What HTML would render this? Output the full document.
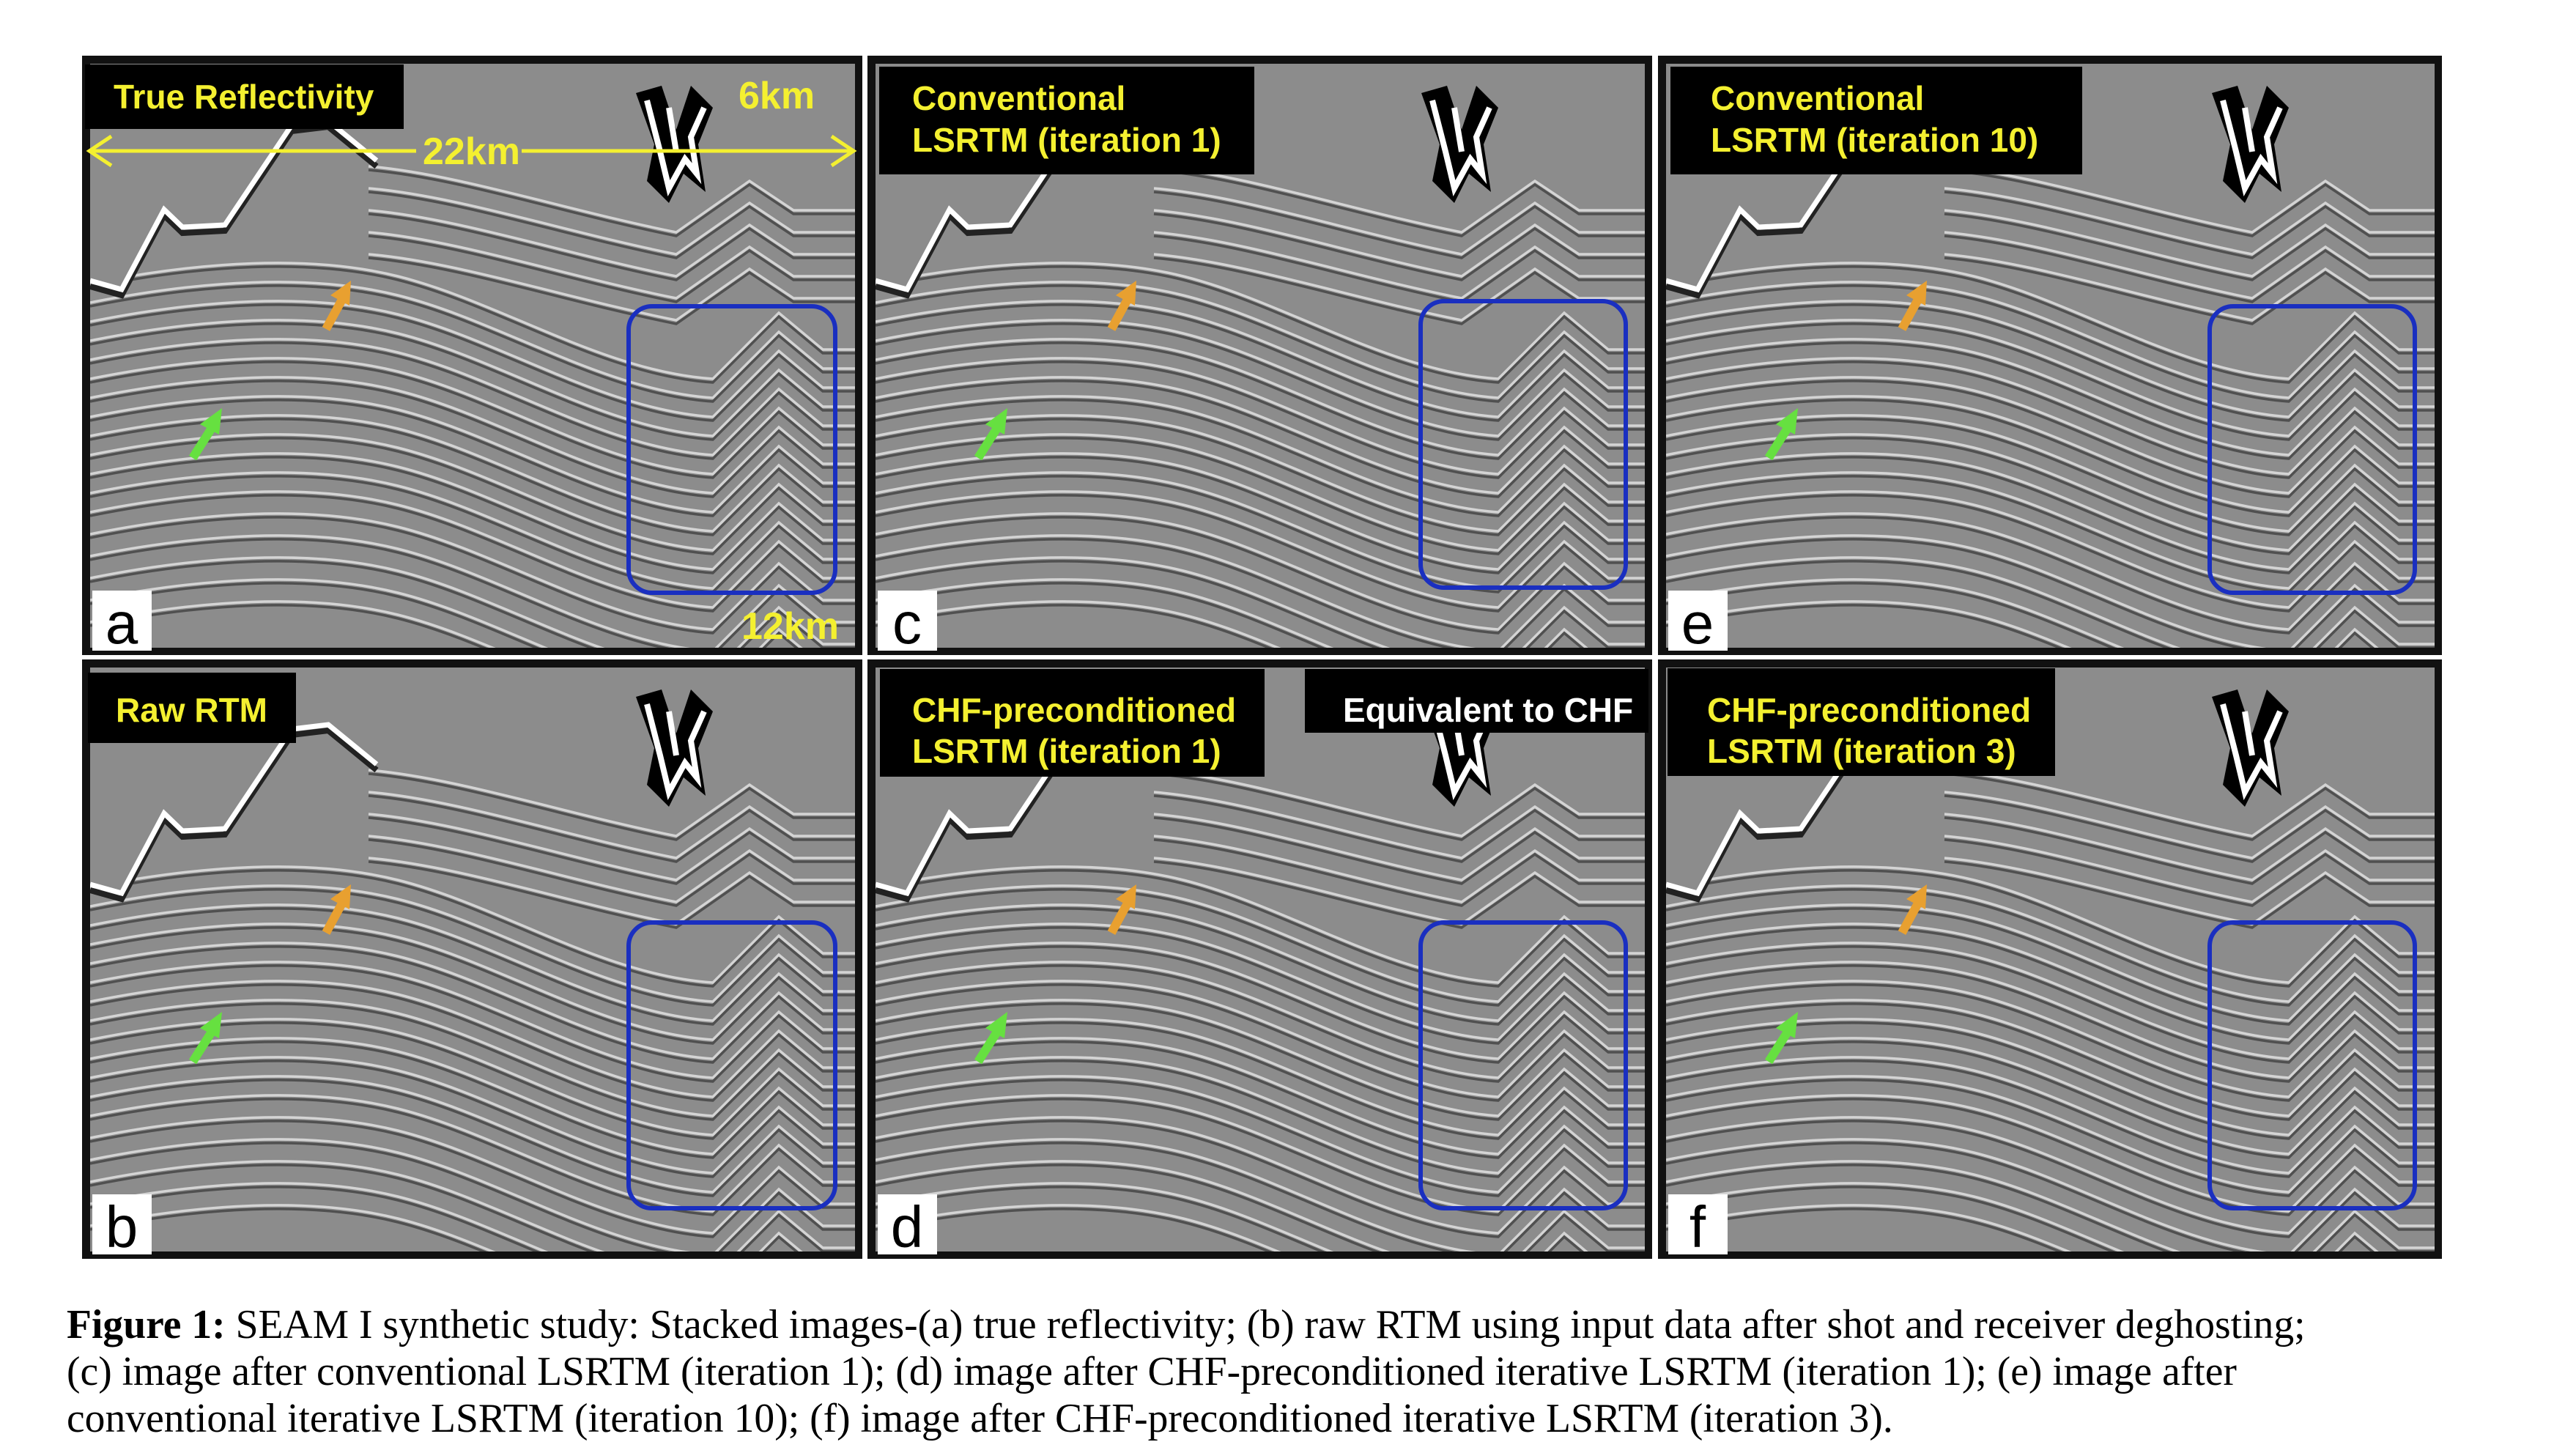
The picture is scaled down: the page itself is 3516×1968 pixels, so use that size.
<!DOCTYPE html>
<html><head><meta charset="utf-8"><style>
html,body{margin:0;padding:0;background:#fff;}
body{width:3516px;height:1960px;position:relative;overflow:hidden;}
.cap{position:absolute;left:91px;font-family:"Liberation Serif",serif;font-size:55.6px;white-space:nowrap;color:#000;}
</style></head><body>
<svg width="3516" height="1960" style="position:absolute;left:0;top:0" xmlns="http://www.w3.org/2000/svg">
<defs>
<path id="T" d="M0,0 C150,-30 300,-40 420,-10 C560,25 700,120 850,130 L940,40 L1000,90 L1060,90"/>
<path id="U" d="M380,0 C500,10 650,60 800,90 L900,20 L960,60 L1060,60"/>
<g id="L" fill="none" stroke-width="3.5">
  <use href="#T" stroke="#d4d4d4"/><use href="#T" stroke="#505050" transform="translate(0,5)"/>
</g>
<g id="LU" fill="none" stroke-width="3.5">
  <use href="#U" stroke="#d4d4d4"/><use href="#U" stroke="#505050" transform="translate(0,5)"/>
</g>
<g id="seis">
  <rect x="0" y="0" width="1100" height="820" fill="#8c8c8c"/>
  <use href="#LU" y="140"/><use href="#LU" y="170"/><use href="#LU" y="200"/><use href="#LU" y="230"/><use href="#LU" y="260"/>
  <use href="#L" y="300"/><use href="#L" y="326"/><use href="#L" y="352"/><use href="#L" y="378"/><use href="#L" y="404"/><use href="#L" y="430"/>
  <use href="#L" y="456"/><use href="#L" y="482"/><use href="#L" y="508"/><use href="#L" y="534"/><use href="#L" y="560"/><use href="#L" y="586"/>
  <use href="#L" y="612"/><use href="#L" y="642"/><use href="#L" y="672"/><use href="#L" y="702"/><use href="#L" y="732"/><use href="#L" y="762"/>
  <polygon points="0,0 400,0 400,132 325,78 275,84 184,220 126,223 101,199 43,308 0,296" fill="#8c8c8c"/>
  <path d="M0,296 L43,308 L101,199 L126,223 L184,220 L275,84 L325,78 L391,132" fill="none" stroke="#222" stroke-width="8" transform="translate(0,8)"/>
  <path d="M0,296 L43,308 L101,199 L126,223 L184,220 L275,84 L325,78 L391,132" fill="none" stroke="#fff" stroke-width="7"/>
  <path d="M745,40 L770,110 L760,160 L790,190 L810,150 L840,175 L830,110 L850,60 L820,30 L800,90 L780,30 Z" fill="#000"/>
  <path d="M760,50 L778,120 L790,170 L812,130 L828,150 L820,100 L838,60 M790,60 L800,120" fill="none" stroke="#fff" stroke-width="8"/>
</g>
<g id="arr">
  <g stroke="#e8a030" stroke-width="12" fill="#e8a030"><line x1="322" y1="362" x2="346" y2="318"/><polygon points="356,296 328,316 354,330" stroke="none"/></g>
  <g stroke="#66e040" stroke-width="12" fill="#66e040"><line x1="140" y1="538" x2="168" y2="494"/><polygon points="180,470 150,492 176,506" stroke="none"/></g>
</g>
</defs>
<g font-family="Liberation Sans, sans-serif">
<rect x="112" y="76" width="1065" height="818" fill="#111"/>
<svg x="123" y="87" width="1044" height="797"><use href="#seis"/><use href="#arr"/></svg>
<rect x="1184" y="76" width="1071" height="818" fill="#111"/>
<svg x="1195" y="87" width="1050" height="797"><use href="#seis"/><use href="#arr"/></svg>
<rect x="2263" y="76" width="1070" height="818" fill="#111"/>
<svg x="2274" y="87" width="1049" height="797"><use href="#seis"/><use href="#arr"/></svg>
<rect x="112" y="900" width="1065" height="818" fill="#111"/>
<svg x="123" y="911" width="1044" height="797"><use href="#seis"/><use href="#arr"/></svg>
<rect x="1184" y="900" width="1071" height="818" fill="#111"/>
<svg x="1195" y="911" width="1050" height="797"><use href="#seis"/><use href="#arr"/></svg>
<rect x="2263" y="900" width="1070" height="818" fill="#111"/>
<svg x="2274" y="911" width="1049" height="797"><use href="#seis"/><use href="#arr"/></svg>

<g fill="none" stroke="#1a2fc0" stroke-width="6">
<rect x="858" y="418" width="282" height="391" rx="32"/>
<rect x="858" y="1259" width="282" height="390" rx="32"/>
<rect x="1939" y="411" width="280" height="391" rx="32"/>
<rect x="1939" y="1259" width="280" height="390" rx="32"/>
<rect x="3016" y="418" width="280" height="391" rx="32"/>
<rect x="3016" y="1259" width="280" height="390" rx="32"/>
</g>

<g fill="#000">
<rect x="116" y="88" width="435" height="88"/>
<rect x="1200" y="91" width="512" height="147"/>
<rect x="2280" y="91" width="562" height="147"/>
<rect x="120" y="918" width="284" height="96"/>
<rect x="1201" y="913" width="525" height="147"/>
<rect x="1781" y="913" width="469" height="87"/>
<rect x="2276" y="912" width="529" height="147"/>
</g>
<g fill="#f4f030" font-weight="bold" font-size="46">
<text x="155" y="148">True Reflectivity</text>
<text x="1245" y="150">Conventional</text><text x="1245" y="207">LSRTM (iteration 1)</text>
<text x="2335" y="150">Conventional</text><text x="2335" y="207">LSRTM (iteration 10)</text>
<text x="158" y="985">Raw RTM</text>
<text x="1245" y="985">CHF-preconditioned</text><text x="1245" y="1041">LSRTM (iteration 1)</text>
<text x="2330" y="985">CHF-preconditioned</text><text x="2330" y="1041">LSRTM (iteration 3)</text>
<text x="1008" y="148" font-size="52">6km</text>
<text x="1012" y="872" font-size="52">12km</text>
<text x="577" y="224" font-size="52">22km</text>
</g>
<text x="1833" y="985" fill="#fff" font-weight="bold" font-size="46">Equivalent to CHF</text>
<g stroke="#f4f030" stroke-width="5" fill="none">
<line x1="122" y1="206" x2="568" y2="206"/><line x1="712" y1="206" x2="1165" y2="206"/>
<polyline points="152,186 122,206 152,226"/><polyline points="1135,186 1165,206 1135,226"/>
</g>

<g fill="#fff"><rect x="126" y="806" width="81" height="82"/><rect x="1198" y="806" width="81" height="82"/><rect x="2277" y="806" width="81" height="82"/>
<rect x="126" y="1630" width="81" height="82"/><rect x="1198" y="1630" width="81" height="82"/><rect x="2277" y="1630" width="81" height="82"/></g>
<g fill="#000" font-size="80" text-anchor="middle">
<text x="166" y="878">a</text><text x="1238" y="878">c</text><text x="2317" y="878">e</text>
<text x="166" y="1702">b</text><text x="1238" y="1702">d</text><text x="2317" y="1702">f</text>
</g>
</g>
</svg>
<div class="cap" style="top:1776px"><b>Figure 1:</b> SEAM I synthetic study: Stacked images-(a) true reflectivity; (b) raw RTM using input data after shot and receiver deghosting;</div>
<div class="cap" style="top:1840px">(c) image after conventional LSRTM (iteration 1); (d) image after CHF-preconditioned iterative LSRTM (iteration 1); (e) image after</div>
<div class="cap" style="top:1904px">conventional iterative LSRTM (iteration 10); (f) image after CHF-preconditioned iterative LSRTM (iteration 3).</div>
</body></html>
